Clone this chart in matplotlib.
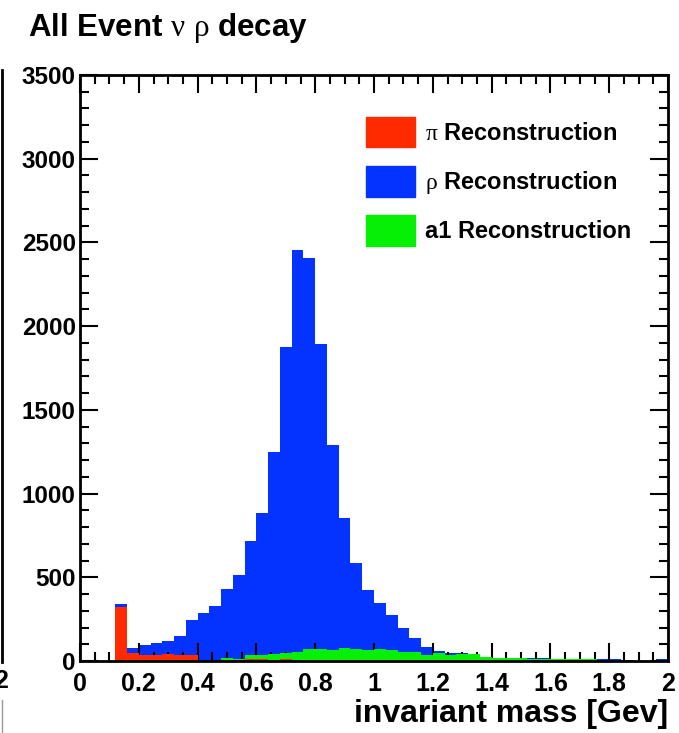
import numpy as np
import matplotlib
matplotlib.use("Agg")
import matplotlib.pyplot as plt
from matplotlib.patches import Patch
from matplotlib.lines import Line2D
from matplotlib.ticker import MultipleLocator

plt.rcParams['font.family'] = ['Liberation Sans', 'DejaVu Sans']
plt.rcParams['mathtext.fontset'] = 'custom'
plt.rcParams['mathtext.rm'] = 'Liberation Serif'
plt.rcParams['mathtext.it'] = 'Liberation Serif'
plt.rcParams['mathtext.bf'] = 'Liberation Serif'

# ---- data (50 bins, 0..2 GeV, width 0.04) ----
x_min, x_max, n_bins = 0.0, 2.0, 50

rho_counts = [0, 0, 0, 340, 78, 98, 110, 122, 152, 245,
              288, 328, 432, 511, 717, 885, 1250, 1875, 2455, 2405,
              1895, 1290, 855, 585, 427, 345, 273, 196, 135, 86,
              58, 48, 46, 44, 22, 20, 20, 20, 18, 18,
              12, 12, 12, 12, 10, 10, 3, 2, 2, 10]

pi_counts = [0, 0, 0, 325, 46, 36, 34, 40, 34, 36,
             0, 8, 8, 6, 14, 14, 8, 10, 6, 0,
             0, 0, 0, 0, 0, 0, 0, 0, 0, 0,
             0, 0, 0, 0, 0, 0, 0, 0, 0, 0,
             0, 0, 0, 0, 0, 0, 0, 0, 0, 0]

a1_counts = [0, 0, 0, 0, 0, 0, 0, 0, 0, 0,
             0, 0, 18, 12, 36, 34, 42, 50, 52, 70,
             70, 68, 78, 74, 68, 70, 66, 56, 55, 36,
             46, 36, 40, 40, 22, 20, 16, 15, 14, 14,
             10, 10, 10, 10, 0, 0, 0, 0, 0, 0]

labels = [r'$\pi$ Reconstruction', r'$\rho$ Reconstruction', 'a1 Reconstruction']
title = r'All Event $\nu$ $\rho$ decay'
xlabel = 'invariant mass [Gev]'

c_red = '#ff2a00'
c_blue = '#0433ff'
c_green = '#05f005'

edges = np.linspace(x_min, x_max, n_bins + 1)

W, H = 679, 733
fig = plt.figure(figsize=(W / 100, H / 100), dpi=100)
ax = fig.add_axes([80 / W, 1 - 661 / H, (668 - 80) / W, (661 - 75) / H])

ax.stairs(rho_counts, edges, fill=True, color=c_blue, zorder=2)
ax.stairs(a1_counts, edges, fill=True, color=c_green, zorder=3)
ax.stairs(pi_counts, edges, fill=True, color=c_red, zorder=4)

ax.set_xlim(0, 2)
ax.set_ylim(0, 3500)

ax.xaxis.set_major_locator(MultipleLocator(0.2))
ax.xaxis.set_minor_locator(MultipleLocator(0.05))
ax.yaxis.set_major_locator(MultipleLocator(500))
ax.yaxis.set_minor_locator(MultipleLocator(100))

def fmt_x(v, pos):
    s = f'{v:.1f}'
    if s.endswith('.0'):
        s = s[:-2]
    return s

ax.xaxis.set_major_formatter(matplotlib.ticker.FuncFormatter(fmt_x))
ax.yaxis.set_major_formatter(matplotlib.ticker.FuncFormatter(lambda v, p: f'{int(v)}'))

ax.tick_params(which='both', direction='in', top=True, right=True, width=1.5, color='black', zorder=10)
ax.tick_params(which='major', length=13)
ax.tick_params(which='minor', length=6.5)
ax.tick_params(axis='x', which='major', labelsize=18, pad=8)
ax.tick_params(axis='y', which='major', labelsize=17.5, pad=3)
for lab in ax.get_xticklabels() + ax.get_yticklabels():
    lab.set_fontweight('bold')
for sp in ax.spines.values():
    sp.set_linewidth(2.0)
    sp.set_zorder(10)
ax.set_axisbelow(False)

ax.set_xlabel(xlabel, fontsize=23, fontweight='bold', loc='right', labelpad=2)

handles = [Patch(facecolor=c, edgecolor=c) for c in (c_red, c_blue, c_green)]
leg = ax.legend(handles, labels, loc='upper left', bbox_to_anchor=((366 - 80) / 588, (661 - 117) / 586),
                frameon=False, borderpad=0, borderaxespad=0, handlelength=2.08, handleheight=1.6,
                handletextpad=0.42, labelspacing=0.8, prop={'weight': 'bold', 'size': 17})

fig.text(28 / W, 1 - 28 / H, title, fontsize=22.5, fontweight='bold', va='center', ha='left')

# clipped remnants of the neighbouring panel at the left edge
fig.add_artist(Line2D([2 / W, 2 / W], [1 - 662 / H, 1 - 70 / H], color='black', lw=2.0))
fig.text(8 / W, 1 - 681 / H, '2', fontsize=18, fontweight='bold', ha='right', va='center')
fig.add_artist(Line2D([2 / W, 2 / W], [0, 1 - 700 / H], color='#999999', lw=1.0))

fig.savefig('out.png', dpi=100)
